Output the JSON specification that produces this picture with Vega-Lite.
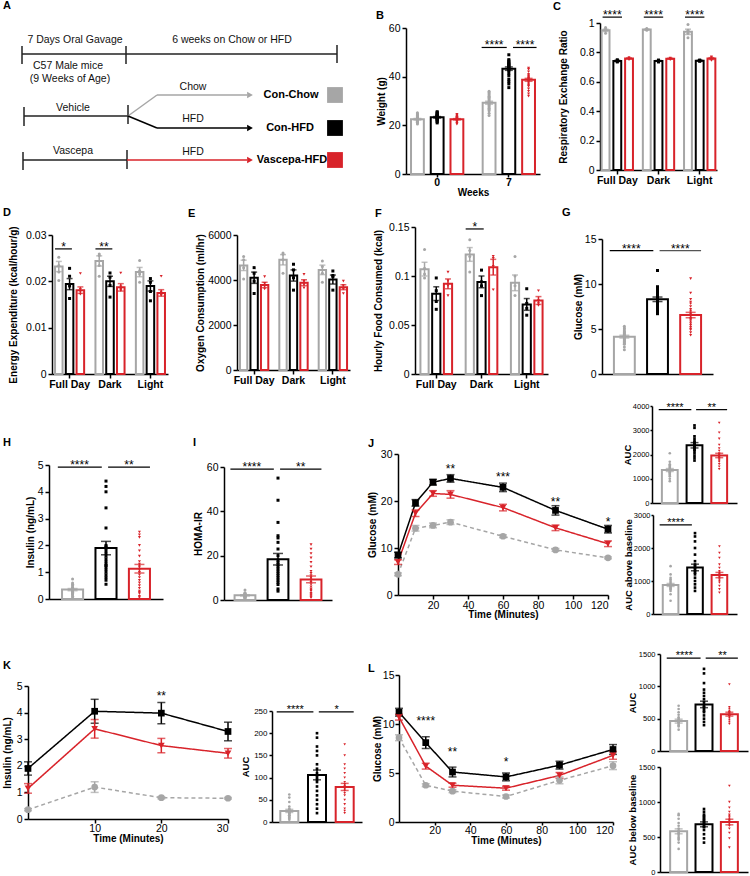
{
"$schema":"https://vega.github.io/schema/vega-lite/v6.json",
"background":"white",
"padding":0,
"config":{
 "font":"Liberation Sans",
 "view":{"stroke":null},
 "concat":{"spacing":0},
 "axis":{"domainColor":"#000","domainWidth":1.5,"tickColor":"#000","tickWidth":1.5,"tickSize":4,"labelColor":"#000","labelFont":"Liberation Sans","labelFontSize":10.5,"titleFont":"Liberation Sans","titleFontSize":10,"titleFontWeight":"bold","titleColor":"#000","grid":false,"labelPadding":2,"titlePadding":3},
 "title":{"anchor":"start","frame":"group","fontSize":11,"fontWeight":"bold","font":"Liberation Sans","color":"#000"}
},
"datasets":{
 "tl":[{"x":22,"y":52,"x2":337,"y2":52},{"x":22,"y":44,"x2":22,"y2":62},{"x":126,"y":44,"x2":126,"y2":62},{"x":337,"y":43,"x2":337,"y2":61},{"x":24,"y":114,"x2":128,"y2":114},{"x":24,"y":105,"x2":24,"y2":124},{"x":128,"y":103,"x2":128,"y2":122},{"x":23,"y":158,"x2":127,"y2":158},{"x":23,"y":150,"x2":23,"y2":168},{"x":127,"y":148,"x2":127,"y2":167}],
 "br":[{"g":"Con-Chow","x":128,"y":114,"x2":157,"y2":93},{"g":"Con-Chow","x":157,"y":93,"x2":247,"y2":93},{"g":"Con-HFD","x":128,"y":114,"x2":157,"y2":126},{"g":"Con-HFD","x":157,"y":126,"x2":247,"y2":126},{"g":"Vascepa-HFD","x":127,"y":158,"x2":247,"y2":158}],
 "arr":[{"g":"Con-Chow","x":250,"y":93},{"g":"Con-HFD","x":250,"y":126},{"g":"Vascepa-HFD","x":250,"y":158}],
 "atext":[{"t":"7 Days Oral Gavage","x":75,"y":38},{"t":"6 weeks on Chow or HFD","x":232,"y":38},{"t":"C57 Male mice","x":68,"y":64},{"t":"(9 Weeks of Age)","x":70,"y":77},{"t":"Chow","x":193,"y":85},{"t":"Vehicle","x":73,"y":106},{"t":"HFD","x":193,"y":117},{"t":"Vascepa","x":73,"y":149},{"t":"HFD","x":193,"y":150}],
 "leg":[{"g":"Con-Chow","x":291,"xs":335,"y":93},{"g":"Con-HFD","x":290,"xs":335,"y":126},{"g":"Vascepa-HFD","x":292,"xs":335,"y":158}],
 "bars":[
  {"p":"B","c":"0","g":"Con-Chow","v":22.5,"e":0.3},{"p":"B","c":"0","g":"Con-HFD","v":23.3,"e":0.3},{"p":"B","c":"0","g":"Vascepa-HFD","v":22.5,"e":0.25},
  {"p":"B","c":"7","g":"Con-Chow","v":29.3,"e":0.6},{"p":"B","c":"7","g":"Con-HFD","v":43.3,"e":0.7},{"p":"B","c":"7","g":"Vascepa-HFD","v":38.7,"e":0.6},
  {"p":"C","c":"Full Day","g":"Con-Chow","v":0.95,"e":0.008},{"p":"C","c":"Full Day","g":"Con-HFD","v":0.742,"e":0.004},{"p":"C","c":"Full Day","g":"Vascepa-HFD","v":0.758,"e":0.004},
  {"p":"C","c":"Dark","g":"Con-Chow","v":0.955,"e":0.003},{"p":"C","c":"Dark","g":"Con-HFD","v":0.742,"e":0.003},{"p":"C","c":"Dark","g":"Vascepa-HFD","v":0.757,"e":0.003},
  {"p":"C","c":"Light","g":"Con-Chow","v":0.94,"e":0.018},{"p":"C","c":"Light","g":"Con-HFD","v":0.744,"e":0.002},{"p":"C","c":"Light","g":"Vascepa-HFD","v":0.758,"e":0.006},
  {"p":"D","c":"Full Day","g":"Con-Chow","v":0.0232,"e":0.0011},{"p":"D","c":"Full Day","g":"Con-HFD","v":0.0194,"e":0.0012},{"p":"D","c":"Full Day","g":"Vascepa-HFD","v":0.0181,"e":0.0007},
  {"p":"D","c":"Dark","g":"Con-Chow","v":0.0244,"e":0.0011},{"p":"D","c":"Dark","g":"Con-HFD","v":0.02,"e":0.0011},{"p":"D","c":"Dark","g":"Vascepa-HFD","v":0.0187,"e":0.0008},
  {"p":"D","c":"Light","g":"Con-Chow","v":0.022,"e":0.001},{"p":"D","c":"Light","g":"Con-HFD","v":0.019,"e":0.0011},{"p":"D","c":"Light","g":"Vascepa-HFD","v":0.0175,"e":0.0007},
  {"p":"E","c":"Full Day","g":"Con-Chow","v":4650,"e":230},{"p":"E","c":"Full Day","g":"Con-HFD","v":4100,"e":250},{"p":"E","c":"Full Day","g":"Vascepa-HFD","v":3780,"e":120},
  {"p":"E","c":"Dark","g":"Con-Chow","v":4900,"e":230},{"p":"E","c":"Dark","g":"Con-HFD","v":4200,"e":250},{"p":"E","c":"Dark","g":"Vascepa-HFD","v":3880,"e":130},
  {"p":"E","c":"Light","g":"Con-Chow","v":4450,"e":210},{"p":"E","c":"Light","g":"Con-HFD","v":4020,"e":200},{"p":"E","c":"Light","g":"Vascepa-HFD","v":3680,"e":110},
  {"p":"F","c":"Full Day","g":"Con-Chow","v":0.107,"e":0.007},{"p":"F","c":"Full Day","g":"Con-HFD","v":0.082,"e":0.007},{"p":"F","c":"Full Day","g":"Vascepa-HFD","v":0.092,"e":0.005},
  {"p":"F","c":"Dark","g":"Con-Chow","v":0.122,"e":0.007},{"p":"F","c":"Dark","g":"Con-HFD","v":0.094,"e":0.006},{"p":"F","c":"Dark","g":"Vascepa-HFD","v":0.109,"e":0.008},
  {"p":"F","c":"Light","g":"Con-Chow","v":0.093,"e":0.008},{"p":"F","c":"Light","g":"Con-HFD","v":0.071,"e":0.006},{"p":"F","c":"Light","g":"Vascepa-HFD","v":0.075,"e":0.004},
  {"p":"G","g":"Con-Chow","v":4.15,"e":0.15},{"p":"G","g":"Con-HFD","v":8.3,"e":0.25},{"p":"G","g":"Vascepa-HFD","v":6.55,"e":0.3},
  {"p":"H","g":"Con-Chow","v":0.35,"e":0.04},{"p":"H","g":"Con-HFD","v":1.9,"e":0.25},{"p":"H","g":"Vascepa-HFD","v":1.13,"e":0.16},
  {"p":"I","g":"Con-Chow","v":2.1,"e":0.25},{"p":"I","g":"Con-HFD","v":18.4,"e":2.6},{"p":"I","g":"Vascepa-HFD","v":9.3,"e":1.5},
  {"p":"JA","g":"Con-Chow","v":1360,"e":60},{"p":"JA","g":"Con-HFD","v":2380,"e":110},{"p":"JA","g":"Vascepa-HFD","v":1960,"e":90},
  {"p":"JB","g":"Con-Chow","v":880,"e":45},{"p":"JB","g":"Con-HFD","v":1410,"e":100},{"p":"JB","g":"Vascepa-HFD","v":1180,"e":80},
  {"p":"KA","g":"Con-Chow","v":25,"e":3.5},{"p":"KA","g":"Con-HFD","v":106,"e":11},{"p":"KA","g":"Vascepa-HFD","v":79,"e":8},
  {"p":"LA","g":"Con-Chow","v":462,"e":30},{"p":"LA","g":"Con-HFD","v":720,"e":50},{"p":"LA","g":"Vascepa-HFD","v":570,"e":30},
  {"p":"LB","g":"Con-Chow","v":581,"e":35},{"p":"LB","g":"Con-HFD","v":681,"e":35},{"p":"LB","g":"Vascepa-HFD","v":714,"e":40}
 ],
 "dots":[
  {"p":"B","c":"0","g":"Con-Chow","v":[20.5,21,21.3,21.6,21.8,22,22.2,22.4,22.6,22.8,23,23.2,23.4,23.6,24,24.3,24.8,25.2,22.1,21.5]},
  {"p":"B","c":"0","g":"Con-HFD","v":[21,21.8,22.3,22.7,23,23.2,23.5,23.8,24,24.3,24.6,25,25.3,25.6,22.9,23.4,24.1,22.5,21.5,23.7]},
  {"p":"B","c":"0","g":"Vascepa-HFD","v":[20.8,21.3,21.7,22,22.2,22.4,22.6,22.8,23,23.2,23.5,23.8,24.2,22.1,22.9,21.9,22.5,23.3,20.5,24.5]},
  {"p":"B","c":"7","g":"Con-Chow","v":[24,25,26,26.5,27,27.5,28,28.5,29,29.3,29.6,30,30.5,31,31.5,32,32.5,33,33.5,34]},
  {"p":"B","c":"7","g":"Con-HFD","v":[35.5,37,38,39,40.5,41.5,42.5,43,43.3,43.6,44,44.3,44.6,45,45.3,45.6,46,46.5,47,49]},
  {"p":"B","c":"7","g":"Vascepa-HFD","v":[32,33,34,35,36,36.5,37,37.5,38,38.3,38.6,39,39.3,39.6,40,40.5,41,42,43,43.5]},
  {"p":"C","c":"Full Day","g":"Con-Chow","v":[0.93,0.95,0.96,0.97]},{"p":"C","c":"Full Day","g":"Con-HFD","v":[0.735,0.74,0.745,0.75]},{"p":"C","c":"Full Day","g":"Vascepa-HFD","v":[0.75,0.755,0.76,0.765]},
  {"p":"C","c":"Dark","g":"Con-Chow","v":[0.95,0.955,0.96,0.962]},{"p":"C","c":"Dark","g":"Con-HFD","v":[0.735,0.74,0.745,0.748]},{"p":"C","c":"Dark","g":"Vascepa-HFD","v":[0.75,0.755,0.76,0.762]},
  {"p":"C","c":"Light","g":"Con-Chow","v":[0.9,0.93,0.95,0.99]},{"p":"C","c":"Light","g":"Con-HFD","v":[0.74,0.742,0.745,0.748]},{"p":"C","c":"Light","g":"Vascepa-HFD","v":[0.745,0.755,0.765,0.77]},
  {"p":"D","c":"Full Day","g":"Con-Chow","v":[0.0202,0.022,0.0234,0.0252]},{"p":"D","c":"Full Day","g":"Con-HFD","v":[0.0163,0.019,0.0211,0.0228]},{"p":"D","c":"Full Day","g":"Vascepa-HFD","v":[0.0172,0.0178,0.0183,0.0217]},
  {"p":"D","c":"Dark","g":"Con-Chow","v":[0.0211,0.0234,0.0256,0.0259]},{"p":"D","c":"Dark","g":"Con-HFD","v":[0.0166,0.0191,0.0209,0.0218]},{"p":"D","c":"Dark","g":"Vascepa-HFD","v":[0.018,0.0183,0.0188,0.0218]},
  {"p":"D","c":"Light","g":"Con-Chow","v":[0.0198,0.0216,0.0223,0.0245]},{"p":"D","c":"Light","g":"Con-HFD","v":[0.0158,0.0178,0.0198,0.0206]},{"p":"D","c":"Light","g":"Vascepa-HFD","v":[0.017,0.0173,0.0177,0.0211]},
  {"p":"E","c":"Full Day","g":"Con-Chow","v":[4050,4550,4900,5050]},{"p":"E","c":"Full Day","g":"Con-HFD","v":[3400,3950,4300,4550]},{"p":"E","c":"Full Day","g":"Vascepa-HFD","v":[3600,3750,3850,4150]},
  {"p":"E","c":"Dark","g":"Con-Chow","v":[4300,4900,5150,5200]},{"p":"E","c":"Dark","g":"Con-HFD","v":[3550,4100,4450,4700]},{"p":"E","c":"Dark","g":"Vascepa-HFD","v":[3650,3800,3950,4250]},
  {"p":"E","c":"Light","g":"Con-Chow","v":[3900,4300,4600,4850]},{"p":"E","c":"Light","g":"Con-HFD","v":[3550,4150,4200,4400]},{"p":"E","c":"Light","g":"Vascepa-HFD","v":[3400,3600,3750,3950]},
  {"p":"F","c":"Full Day","g":"Con-Chow","v":[0.098,0.102,0.108,0.127]},{"p":"F","c":"Full Day","g":"Con-HFD","v":[0.066,0.074,0.085,0.098]},{"p":"F","c":"Full Day","g":"Vascepa-HFD","v":[0.08,0.09,0.095,0.104]},
  {"p":"F","c":"Dark","g":"Con-Chow","v":[0.104,0.12,0.126,0.137]},{"p":"F","c":"Dark","g":"Con-HFD","v":[0.08,0.09,0.094,0.106]},{"p":"F","c":"Dark","g":"Vascepa-HFD","v":[0.086,0.11,0.118,0.12]},
  {"p":"F","c":"Light","g":"Con-Chow","v":[0.08,0.09,0.1,0.12]},{"p":"F","c":"Light","g":"Con-HFD","v":[0.06,0.067,0.072,0.087]},{"p":"F","c":"Light","g":"Vascepa-HFD","v":[0.07,0.072,0.075,0.085]},
  {"p":"G","g":"Con-Chow","v":[2.7,3.0,3.3,3.5,3.7,3.8,3.9,4.0,4.1,4.2,4.3,4.4,4.5,4.6,4.8,5.0,5.1,5.3,3.6,4.2,4.7,3.4]},
  {"p":"G","g":"Con-HFD","v":[6.7,6.9,7.1,7.3,7.5,7.7,7.8,8.0,8.2,8.4,8.6,8.8,9.0,9.2,9.4,9.6,9.7,11.5,7.0,8.3,8.9,7.4]},
  {"p":"G","g":"Vascepa-HFD","v":[4.3,4.6,4.9,5.2,5.4,5.6,5.8,6.0,6.2,6.4,6.6,6.8,7.0,7.2,7.5,7.8,8.0,8.3,9.0,10.6,5.0,6.1]},
  {"p":"H","g":"Con-Chow","v":[0.05,0.1,0.15,0.2,0.22,0.25,0.28,0.3,0.32,0.35,0.37,0.4,0.42,0.45,0.5,0.55,0.6,0.75,0.2,0.3,0.35]},
  {"p":"H","g":"Con-HFD","v":[0.55,0.7,0.9,1.0,1.1,1.2,1.3,1.4,1.5,1.6,1.7,1.8,1.95,2.0,2.65,3.4,4.0,4.2,4.4,0.8,1.25,1.9]},
  {"p":"H","g":"Vascepa-HFD","v":[0.05,0.1,0.2,0.3,0.4,0.5,0.6,0.7,0.8,0.9,1.0,1.1,1.2,1.3,1.4,1.6,1.8,2.0,2.3,2.4,2.5,0.25]},
  {"p":"I","g":"Con-Chow","v":[1,1.2,1.5,1.6,1.8,2,2.1,2.2,2.4,2.6,2.8,3.0,1.4,1.9,2.5,3.3,4.5,0.8]},
  {"p":"I","g":"Con-HFD","v":[4,5,7,8,9,10,11,12,13,14,15,16,17,18,20,23,26,28,29,35,45,55]},
  {"p":"I","g":"Vascepa-HFD","v":[1,1.5,2,2.5,3,4,5,6,7,8,9,10,11,12,13,15,17,19,21,23,25,4.5]},
  {"p":"JA","g":"Con-Chow","v":[900,1000,1100,1150,1200,1250,1300,1350,1400,1450,1500,1550,1600,1700,2050,1250,1380]},
  {"p":"JA","g":"Con-HFD","v":[1750,1850,1950,2050,2150,2250,2300,2350,2400,2450,2500,2550,2650,2750,3100,3200,2200]},
  {"p":"JA","g":"Vascepa-HFD","v":[1400,1500,1600,1700,1750,1800,1850,1900,1950,2000,2050,2150,2250,2400,2650,2900,3300,1900]},
  {"p":"JB","g":"Con-Chow","v":[400,600,700,750,800,850,880,900,950,1000,1050,1100,1200,1450,850,780]},
  {"p":"JB","g":"Con-HFD","v":[700,800,900,1000,1100,1200,1300,1350,1400,1450,1500,1600,1800,2000,2200,2350,2450,1250]},
  {"p":"JB","g":"Vascepa-HFD","v":[650,750,850,950,1000,1050,1100,1150,1200,1250,1300,1400,1500,1700,1850,2050,1150]},
  {"p":"KA","g":"Con-Chow","v":[5,8,10,12,15,18,20,22,25,28,30,35,45,55,62,20,15]},
  {"p":"KA","g":"Con-HFD","v":[20,30,40,50,60,70,80,90,100,110,120,130,150,160,170,190,200,95,105]},
  {"p":"KA","g":"Vascepa-HFD","v":[20,25,30,40,50,60,70,75,80,85,90,100,110,120,130,150,175,65]},
  {"p":"LA","g":"Con-Chow","v":[330,380,400,420,440,460,480,500,520,560,600,650,700,450]},
  {"p":"LA","g":"Con-HFD","v":[400,450,500,550,600,650,700,750,800,850,900,950,1050,1200,1270,620,680]},
  {"p":"LA","g":"Vascepa-HFD","v":[420,450,480,510,540,560,580,600,620,650,680,1030,540,600]},
  {"p":"LB","g":"Con-Chow","v":[330,420,460,500,530,560,590,620,660,700,760,810,830,480,550]},
  {"p":"LB","g":"Con-HFD","v":[420,480,540,600,640,680,700,720,740,760,780,800,820,860,900,650]},
  {"p":"LB","g":"Vascepa-HFD","v":[350,480,560,620,660,700,720,740,760,780,800,820,860,920,1000,1230,700]}
 ],
 "sig":[
  {"p":"B","c":"7","g1":"Con-Chow","g2":"Con-HFD","k":"A","v":52,"t":"****"},{"p":"B","c":"7","g1":"Con-HFD","g2":"Vascepa-HFD","k":"B","v":52,"t":"****"},
  {"p":"C","c":"Full Day","k":"A","v":1.04,"t":"****"},{"p":"C","c":"Dark","k":"A","v":1.04,"t":"****"},{"p":"C","c":"Light","k":"A","v":1.04,"t":"****"},
  {"p":"D","c":"Full Day","k":"A","v":0.027,"t":"*"},{"p":"D","c":"Dark","k":"A","v":0.027,"t":"**"},
  {"p":"F","c":"Dark","k":"A","v":0.148,"t":"*"},
  {"p":"G","g1":"Con-Chow","g2":"Con-HFD","k":"A","v":13.7,"t":"****"},{"p":"G","g1":"Con-HFD","g2":"Vascepa-HFD","k":"B","v":13.7,"t":"****"},
  {"p":"H","g1":"Con-Chow","g2":"Con-HFD","k":"A","v":4.92,"t":"****"},{"p":"H","g1":"Con-HFD","g2":"Vascepa-HFD","k":"B","v":4.92,"t":"**"},
  {"p":"I","g1":"Con-Chow","g2":"Con-HFD","k":"A","v":59,"t":"****"},{"p":"I","g1":"Con-HFD","g2":"Vascepa-HFD","k":"B","v":59,"t":"**"},
  {"p":"JA","g1":"Con-Chow","g2":"Con-HFD","k":"A","v":3850,"t":"****"},{"p":"JA","g1":"Con-HFD","g2":"Vascepa-HFD","k":"B","v":3850,"t":"**"},
  {"p":"JB","g1":"Con-Chow","g2":"Con-HFD","k":"A","v":2700,"t":"****"},
  {"p":"KA","g1":"Con-Chow","g2":"Con-HFD","k":"A","v":248,"t":"****"},{"p":"KA","g1":"Con-HFD","g2":"Vascepa-HFD","k":"B","v":248,"t":"*"},
  {"p":"LA","g1":"Con-Chow","g2":"Con-HFD","k":"A","v":1437,"t":"****"},{"p":"LA","g1":"Con-HFD","g2":"Vascepa-HFD","k":"B","v":1437,"t":"**"}
 ],
 "lines":[
  {"p":"J","g":"Con-Chow","min":0,"v":4.4,"e":0.3},{"p":"J","g":"Con-Chow","min":10,"v":14.2,"e":0.6},{"p":"J","g":"Con-Chow","min":20,"v":14.8,"e":0.5},{"p":"J","g":"Con-Chow","min":30,"v":15.5,"e":0.5},{"p":"J","g":"Con-Chow","min":60,"v":12.5,"e":0.3},{"p":"J","g":"Con-Chow","min":90,"v":9.6,"e":0.3},{"p":"J","g":"Con-Chow","min":120,"v":7.9,"e":0.2},
  {"p":"J","g":"Con-HFD","min":0,"v":8.5,"e":0.6},{"p":"J","g":"Con-HFD","min":10,"v":19.6,"e":0.7},{"p":"J","g":"Con-HFD","min":20,"v":24.0,"e":0.6},{"p":"J","g":"Con-HFD","min":30,"v":24.8,"e":0.8},{"p":"J","g":"Con-HFD","min":60,"v":22.9,"e":0.9},{"p":"J","g":"Con-HFD","min":90,"v":18.0,"e":1.0},{"p":"J","g":"Con-HFD","min":120,"v":14.0,"e":0.8},
  {"p":"J","g":"Vascepa-HFD","min":0,"v":7.0,"e":0.5},{"p":"J","g":"Vascepa-HFD","min":10,"v":17.4,"e":0.7},{"p":"J","g":"Vascepa-HFD","min":20,"v":21.6,"e":0.6},{"p":"J","g":"Vascepa-HFD","min":30,"v":21.4,"e":0.8},{"p":"J","g":"Vascepa-HFD","min":60,"v":18.6,"e":0.7},{"p":"J","g":"Vascepa-HFD","min":90,"v":14.3,"e":0.6},{"p":"J","g":"Vascepa-HFD","min":120,"v":10.9,"e":0.6},
  {"p":"K","g":"Con-Chow","min":0,"v":0.35,"e":0.04},{"p":"K","g":"Con-Chow","min":10,"v":1.2,"e":0.2},{"p":"K","g":"Con-Chow","min":20,"v":0.8,"e":0.04},{"p":"K","g":"Con-Chow","min":30,"v":0.78,"e":0.03},
  {"p":"K","g":"Con-HFD","min":0,"v":1.9,"e":0.25},{"p":"K","g":"Con-HFD","min":10,"v":4.05,"e":0.45},{"p":"K","g":"Con-HFD","min":20,"v":3.98,"e":0.4},{"p":"K","g":"Con-HFD","min":30,"v":3.29,"e":0.35},
  {"p":"K","g":"Vascepa-HFD","min":0,"v":1.15,"e":0.18},{"p":"K","g":"Vascepa-HFD","min":10,"v":3.39,"e":0.35},{"p":"K","g":"Vascepa-HFD","min":20,"v":2.76,"e":0.27},{"p":"K","g":"Vascepa-HFD","min":30,"v":2.47,"e":0.18},
  {"p":"L","g":"Con-Chow","min":0,"v":8.6,"e":0.3},{"p":"L","g":"Con-Chow","min":15,"v":3.75,"e":0.15},{"p":"L","g":"Con-Chow","min":30,"v":3.15,"e":0.15},{"p":"L","g":"Con-Chow","min":60,"v":2.6,"e":0.15},{"p":"L","g":"Con-Chow","min":90,"v":4.25,"e":0.35},{"p":"L","g":"Con-Chow","min":120,"v":5.75,"e":0.4},
  {"p":"L","g":"Con-HFD","min":0,"v":11.2,"e":0.4},{"p":"L","g":"Con-HFD","min":15,"v":8.1,"e":0.6},{"p":"L","g":"Con-HFD","min":30,"v":5.1,"e":0.5},{"p":"L","g":"Con-HFD","min":60,"v":4.6,"e":0.4},{"p":"L","g":"Con-HFD","min":90,"v":5.8,"e":0.4},{"p":"L","g":"Con-HFD","min":120,"v":7.4,"e":0.5},
  {"p":"L","g":"Vascepa-HFD","min":0,"v":10.7,"e":0.3},{"p":"L","g":"Vascepa-HFD","min":15,"v":5.7,"e":0.3},{"p":"L","g":"Vascepa-HFD","min":30,"v":3.75,"e":0.2},{"p":"L","g":"Vascepa-HFD","min":60,"v":3.45,"e":0.2},{"p":"L","g":"Vascepa-HFD","min":90,"v":4.75,"e":0.3},{"p":"L","g":"Vascepa-HFD","min":120,"v":6.8,"e":0.4}
 ],
 "stars":[
  {"p":"J","min":30,"v":27.3,"t":"**"},{"p":"J","min":60,"v":25.6,"t":"***"},{"p":"J","min":90,"v":20.4,"t":"**"},{"p":"J","min":120,"v":16.1,"t":"*"},
  {"p":"K","min":20,"v":4.71,"t":"**"},
  {"p":"L","min":15,"v":10.57,"t":"****"},{"p":"L","min":30,"v":7.43,"t":"**"},{"p":"L","min":60,"v":6.4,"t":"*"}
 ]
},
"spacing":0,
"vconcat":[
 {"spacing":0,"hconcat":[
  {"title":{"text":"A","dx":3,"offset":-9},"width":375,"height":200,
   "encoding":{"x":{"field":"x","type":"quantitative","scale":{"domain":[0,375],"nice":false,"zero":false},"axis":null},"y":{"field":"y","type":"quantitative","scale":{"domain":[0,200],"reverse":true,"nice":false,"zero":false},"axis":null}},
   "layer":[
    {"data":{"name":"tl"},"mark":{"type":"rule","strokeWidth":1.5,"color":"#222"},"encoding":{"x2":{"field":"x2"},"y2":{"field":"y2"}}},
    {"data":{"name":"br"},"mark":{"type":"rule","strokeWidth":1.5},"encoding":{"x2":{"field":"x2"},"y2":{"field":"y2"},"color":{"field":"g","type":"nominal","scale":{"domain":["Con-Chow","Con-HFD","Vascepa-HFD"],"range":["#a6a6a6","#000000","#d8232a"]},"legend":null}}},
    {"data":{"name":"arr"},"mark":{"type":"point","shape":"triangle-right","filled":true,"size":45,"opacity":1},"encoding":{"color":{"field":"g","type":"nominal","scale":{"domain":["Con-Chow","Con-HFD","Vascepa-HFD"],"range":["#a6a6a6","#000000","#d8232a"]},"legend":null}}},
    {"data":{"name":"atext"},"mark":{"type":"text","fontSize":10.5,"baseline":"middle","color":"#111"},"encoding":{"text":{"field":"t"}}},
    {"data":{"name":"leg"},"mark":{"type":"text","fontSize":11,"fontWeight":"bold","baseline":"middle","color":"#000"},"encoding":{"text":{"field":"g"}}},
    {"data":{"name":"leg"},"mark":{"type":"square","size":250,"opacity":1},"encoding":{"x":{"field":"xs","type":"quantitative"},"color":{"field":"g","type":"nominal","scale":{"domain":["Con-Chow","Con-HFD","Vascepa-HFD"],"range":["#a6a6a6","#000000","#d8232a"]},"legend":null}}}
   ]},
  {"title":{"text":"B","dx":1,"offset":-19},"width":177,"height":200,
   "encoding":{
    "x":{"field":"c","type":"nominal","sort":["0","7"],"scale":{"paddingInner":0.27,"paddingOuter":0.07,"range":[31,165]},"axis":{"labelAngle":0,"labelFontWeight":"bold","titlePadding":0,"labelPadding":0,"tickSize":3,"offset":-28},"title":"Weeks"},
    "y":{"field":"v","type":"quantitative","scale":{"domain":[0,60],"range":[172,26]},"axis":{"values":[0,20,40,60],"format":"~f","offset":-31,"titlePadding":2},"title":"Weight (g)"},
    "color":{"field":"g","type":"nominal","scale":{"domain":["Con-Chow","Con-HFD","Vascepa-HFD"],"range":["#a6a6a6","#000000","#d8232a"]},"legend":null}},
   "layer":[
    {"data":{"name":"bars"},"transform":[{"filter":"datum.p=='B'"}],"mark":{"type":"bar","filled":false,"fill":"white","strokeWidth":2},"encoding":{"xOffset":{"field":"g","type":"nominal","sort":["Con-Chow","Con-HFD","Vascepa-HFD"],"scale":{"paddingInner":0.35,"paddingOuter":0}}}},
    {"data":{"name":"dots"},"transform":[{"filter":"datum.p=='B'"},{"flatten":["v"]}],"mark":{"type":"point","filled":true,"size":9,"opacity":1},"encoding":{"xOffset":{"field":"g","type":"nominal","sort":["Con-Chow","Con-HFD","Vascepa-HFD"]},"shape":{"field":"g","type":"nominal","scale":{"domain":["Con-Chow","Con-HFD","Vascepa-HFD"],"range":["circle","square","triangle-down"]},"legend":null}}},
    {"data":{"name":"bars"},"transform":[{"filter":"datum.p=='B'"}],"mark":{"type":"errorbar","ticks":{"size":8},"thickness":1.5},"encoding":{"xOffset":{"field":"g","type":"nominal","sort":["Con-Chow","Con-HFD","Vascepa-HFD"]},"yError":{"field":"e"}}},
    {"data":{"name":"sig"},"transform":[{"filter":"datum.p=='B' && datum.k=='A'"}],"mark":{"type":"rule","strokeWidth":1.2},"encoding":{"x":{"field":"c","type":"nominal","sort":["0","7"],"bandPosition":-0.02,"title":"Weeks"},"x2":{"field":"c","bandPosition":0.46},"color":{"value":"black"}}},
    {"data":{"name":"sig"},"transform":[{"filter":"datum.p=='B' && datum.k=='B'"}],"mark":{"type":"rule","strokeWidth":1.2},"encoding":{"x":{"field":"c","type":"nominal","sort":["0","7"],"bandPosition":0.58,"title":"Weeks"},"x2":{"field":"c","bandPosition":1.03},"color":{"value":"black"}}},
    {"data":{"name":"sig"},"transform":[{"filter":"datum.p=='B' && datum.k=='A'"}],"mark":{"type":"text","baseline":"middle","dy":-2,"fontSize":12},"encoding":{"x":{"field":"c","type":"nominal","sort":["0","7"],"bandPosition":0.22,"title":"Weeks"},"text":{"field":"t"},"color":{"value":"black"}}},
    {"data":{"name":"sig"},"transform":[{"filter":"datum.p=='B' && datum.k=='B'"}],"mark":{"type":"text","baseline":"middle","dy":-2,"fontSize":12},"encoding":{"x":{"field":"c","type":"nominal","sort":["0","7"],"bandPosition":0.81,"title":"Weeks"},"text":{"field":"t"},"color":{"value":"black"}}}
   ]},
  {"title":{"text":"C","dx":1,"offset":-10},"width":198,"height":200,
   "encoding":{
    "x":{"field":"c","type":"nominal","sort":["Full Day","Dark","Light"],"scale":{"paddingInner":0.24,"paddingOuter":0.04,"range":[48,165]},"axis":{"labelAngle":0,"labelFontWeight":"bold","labelPadding":1,"offset":-32},"title":null},
    "y":{"field":"v","type":"quantitative","scale":{"domain":[0,1],"range":[168,21]},"axis":{"values":[0,0.2,0.4,0.6,0.8,1],"format":"~f","titlePadding":11,"offset":-48},"title":"Respiratory Exchange Ratio"},
    "color":{"field":"g","type":"nominal","scale":{"domain":["Con-Chow","Con-HFD","Vascepa-HFD"],"range":["#a6a6a6","#000000","#d8232a"]},"legend":null}},
   "layer":[
    {"data":{"name":"bars"},"transform":[{"filter":"datum.p=='C'"}],"mark":{"type":"bar","filled":false,"fill":"white","strokeWidth":2},"encoding":{"xOffset":{"field":"g","type":"nominal","sort":["Con-Chow","Con-HFD","Vascepa-HFD"],"scale":{"paddingInner":0.33,"paddingOuter":0}}}},
    {"data":{"name":"dots"},"transform":[{"filter":"datum.p=='C'"},{"flatten":["v"]}],"mark":{"type":"point","filled":true,"size":9,"opacity":1},"encoding":{"xOffset":{"field":"g","type":"nominal","sort":["Con-Chow","Con-HFD","Vascepa-HFD"]},"shape":{"field":"g","type":"nominal","scale":{"domain":["Con-Chow","Con-HFD","Vascepa-HFD"],"range":["circle","square","triangle-down"]},"legend":null}}},
    {"data":{"name":"bars"},"transform":[{"filter":"datum.p=='C'"}],"mark":{"type":"errorbar","ticks":{"size":6},"thickness":1.5},"encoding":{"xOffset":{"field":"g","type":"nominal","sort":["Con-Chow","Con-HFD","Vascepa-HFD"]},"yError":{"field":"e"}}},
    {"data":{"name":"sig"},"transform":[{"filter":"datum.p=='C'"}],"mark":{"type":"rule","strokeWidth":1.2},"encoding":{"x":{"field":"c","type":"nominal","sort":["Full Day","Dark","Light"],"bandPosition":0.03,"title":null},"x2":{"field":"c","bandPosition":0.65},"color":{"value":"black"}}},
    {"data":{"name":"sig"},"transform":[{"filter":"datum.p=='C'"}],"mark":{"type":"text","baseline":"middle","dy":-2,"fontSize":12},"encoding":{"x":{"field":"c","type":"nominal","sort":["Full Day","Dark","Light"],"bandPosition":0.34,"title":null},"text":{"field":"t"},"color":{"value":"black"}}}
   ]}
 ],"resolve":{"scale":{"xOffset":"independent"}}},
 {"spacing":0,"hconcat":[
  {"title":{"text":"D","dx":3,"offset":-16},"width":185,"height":195,
   "encoding":{
    "x":{"field":"c","type":"nominal","sort":["Full Day","Dark","Light"],"scale":{"paddingInner":0.28,"paddingOuter":0.075,"range":[52,168]},"axis":{"labelAngle":0,"labelFontWeight":"bold","labelPadding":1,"offset":-23},"title":null},
    "y":{"field":"v","type":"quantitative","scale":{"domain":[0,0.03],"range":[172,33]},"axis":{"values":[0,0.01,0.02,0.03],"format":"~f","titlePadding":6.6,"offset":-52},"title":"Energy Expenditure (kcal/hour/g)"},
    "color":{"field":"g","type":"nominal","scale":{"domain":["Con-Chow","Con-HFD","Vascepa-HFD"],"range":["#a6a6a6","#000000","#d8232a"]},"legend":null}},
   "layer":[
    {"data":{"name":"bars"},"transform":[{"filter":"datum.p=='D'"}],"mark":{"type":"bar","filled":false,"fill":"white","strokeWidth":2},"encoding":{"xOffset":{"field":"g","type":"nominal","sort":["Con-Chow","Con-HFD","Vascepa-HFD"],"scale":{"paddingInner":0.3,"paddingOuter":0}}}},
    {"data":{"name":"dots"},"transform":[{"filter":"datum.p=='D'"},{"flatten":["v"]}],"mark":{"type":"point","filled":true,"size":9,"opacity":1},"encoding":{"xOffset":{"field":"g","type":"nominal","sort":["Con-Chow","Con-HFD","Vascepa-HFD"]},"shape":{"field":"g","type":"nominal","scale":{"domain":["Con-Chow","Con-HFD","Vascepa-HFD"],"range":["circle","square","triangle-down"]},"legend":null}}},
    {"data":{"name":"bars"},"transform":[{"filter":"datum.p=='D'"}],"mark":{"type":"errorbar","ticks":{"size":6},"thickness":1.5},"encoding":{"xOffset":{"field":"g","type":"nominal","sort":["Con-Chow","Con-HFD","Vascepa-HFD"]},"yError":{"field":"e"}}},
    {"data":{"name":"sig"},"transform":[{"filter":"datum.p=='D'"}],"mark":{"type":"rule","strokeWidth":1.2},"encoding":{"x":{"field":"c","type":"nominal","sort":["Full Day","Dark","Light"],"bandPosition":0.0,"title":null},"x2":{"field":"c","bandPosition":0.58},"color":{"value":"black"}}},
    {"data":{"name":"sig"},"transform":[{"filter":"datum.p=='D'"}],"mark":{"type":"text","baseline":"middle","dy":-2,"fontSize":12},"encoding":{"x":{"field":"c","type":"nominal","sort":["Full Day","Dark","Light"],"bandPosition":0.29,"title":null},"text":{"field":"t"},"color":{"value":"black"}}}
   ]},
  {"title":{"text":"E","dx":3,"offset":-17},"width":185,"height":195,
   "encoding":{
    "x":{"field":"c","type":"nominal","sort":["Full Day","Dark","Light"],"scale":{"paddingInner":0.28,"paddingOuter":0.075,"range":[52,165]},"axis":{"labelAngle":0,"labelFontWeight":"bold","labelPadding":1,"offset":-27},"title":null},
    "y":{"field":"v","type":"quantitative","scale":{"domain":[0,6000],"range":[168,33]},"axis":{"values":[0,2000,4000,6000],"format":"~f","titlePadding":2.6,"offset":-52},"title":"Oxygen Consumption (ml/hr)"},
    "color":{"field":"g","type":"nominal","scale":{"domain":["Con-Chow","Con-HFD","Vascepa-HFD"],"range":["#a6a6a6","#000000","#d8232a"]},"legend":null}},
   "layer":[
    {"data":{"name":"bars"},"transform":[{"filter":"datum.p=='E'"}],"mark":{"type":"bar","filled":false,"fill":"white","strokeWidth":2},"encoding":{"xOffset":{"field":"g","type":"nominal","sort":["Con-Chow","Con-HFD","Vascepa-HFD"],"scale":{"paddingInner":0.3,"paddingOuter":0}}}},
    {"data":{"name":"dots"},"transform":[{"filter":"datum.p=='E'"},{"flatten":["v"]}],"mark":{"type":"point","filled":true,"size":9,"opacity":1},"encoding":{"xOffset":{"field":"g","type":"nominal","sort":["Con-Chow","Con-HFD","Vascepa-HFD"]},"shape":{"field":"g","type":"nominal","scale":{"domain":["Con-Chow","Con-HFD","Vascepa-HFD"],"range":["circle","square","triangle-down"]},"legend":null}}},
    {"data":{"name":"bars"},"transform":[{"filter":"datum.p=='E'"}],"mark":{"type":"errorbar","ticks":{"size":6},"thickness":1.5},"encoding":{"xOffset":{"field":"g","type":"nominal","sort":["Con-Chow","Con-HFD","Vascepa-HFD"]},"yError":{"field":"e"}}}
   ]},
  {"title":{"text":"F","dx":5,"offset":-17},"width":192,"height":195,
   "encoding":{
    "x":{"field":"c","type":"nominal","sort":["Full Day","Dark","Light"],"scale":{"paddingInner":0.3,"paddingOuter":0.12,"range":[45,178]},"axis":{"labelAngle":0,"labelFontWeight":"bold","labelPadding":1,"offset":-23},"title":null},
    "y":{"field":"v","type":"quantitative","scale":{"domain":[0,0.15],"range":[172,25]},"axis":{"values":[0,0.05,0.1,0.15],"format":"~f","titlePadding":4.6,"offset":-45},"title":"Hourly Food Consumed (kcal)"},
    "color":{"field":"g","type":"nominal","scale":{"domain":["Con-Chow","Con-HFD","Vascepa-HFD"],"range":["#a6a6a6","#000000","#d8232a"]},"legend":null}},
   "layer":[
    {"data":{"name":"bars"},"transform":[{"filter":"datum.p=='F'"}],"mark":{"type":"bar","filled":false,"fill":"white","strokeWidth":2},"encoding":{"xOffset":{"field":"g","type":"nominal","sort":["Con-Chow","Con-HFD","Vascepa-HFD"],"scale":{"paddingInner":0.3,"paddingOuter":0}}}},
    {"data":{"name":"dots"},"transform":[{"filter":"datum.p=='F'"},{"flatten":["v"]}],"mark":{"type":"point","filled":true,"size":9,"opacity":1},"encoding":{"xOffset":{"field":"g","type":"nominal","sort":["Con-Chow","Con-HFD","Vascepa-HFD"]},"shape":{"field":"g","type":"nominal","scale":{"domain":["Con-Chow","Con-HFD","Vascepa-HFD"],"range":["circle","square","triangle-down"]},"legend":null}}},
    {"data":{"name":"bars"},"transform":[{"filter":"datum.p=='F'"}],"mark":{"type":"errorbar","ticks":{"size":6},"thickness":1.5},"encoding":{"xOffset":{"field":"g","type":"nominal","sort":["Con-Chow","Con-HFD","Vascepa-HFD"]},"yError":{"field":"e"}}},
    {"data":{"name":"sig"},"transform":[{"filter":"datum.p=='F'"}],"mark":{"type":"rule","strokeWidth":1.2},"encoding":{"x":{"field":"c","type":"nominal","sort":["Full Day","Dark","Light"],"bandPosition":0.0,"title":null},"x2":{"field":"c","bandPosition":0.57},"color":{"value":"black"}}},
    {"data":{"name":"sig"},"transform":[{"filter":"datum.p=='F'"}],"mark":{"type":"text","baseline":"middle","dy":-2,"fontSize":12},"encoding":{"x":{"field":"c","type":"nominal","sort":["Full Day","Dark","Light"],"bandPosition":0.29,"title":null},"text":{"field":"t"},"color":{"value":"black"}}}
   ]},
  {"title":{"text":"G","dx":0,"offset":-16,"frame":"bounds"},"width":188,"height":195,
   "encoding":{
    "x":{"field":"g","type":"nominal","sort":["Con-Chow","Con-HFD","Vascepa-HFD"],"scale":{"paddingInner":0.37,"paddingOuter":0.36,"range":[40,151]},"axis":{"labels":false,"ticks":false,"offset":-23},"title":null},
    "y":{"field":"v","type":"quantitative","scale":{"domain":[0,15],"range":[172,37]},"axis":{"values":[0,5,10,15],"format":"~f","titlePadding":1.3,"offset":-40},"title":"Glucose (mM)"},
    "color":{"field":"g","type":"nominal","scale":{"domain":["Con-Chow","Con-HFD","Vascepa-HFD"],"range":["#a6a6a6","#000000","#d8232a"]},"legend":null}},
   "layer":[
    {"data":{"name":"bars"},"transform":[{"filter":"datum.p=='G'"}],"mark":{"type":"bar","filled":false,"fill":"white","strokeWidth":2}},
    {"data":{"name":"dots"},"transform":[{"filter":"datum.p=='G'"},{"flatten":["v"]}],"mark":{"type":"point","filled":true,"size":9,"opacity":1},"encoding":{"shape":{"field":"g","type":"nominal","scale":{"domain":["Con-Chow","Con-HFD","Vascepa-HFD"],"range":["circle","square","triangle-down"]},"legend":null}}},
    {"data":{"name":"bars"},"transform":[{"filter":"datum.p=='G'"}],"mark":{"type":"errorbar","ticks":{"size":10},"thickness":1.5},"encoding":{"yError":{"field":"e"}}},
    {"data":{"name":"sig"},"transform":[{"filter":"datum.p=='G' && datum.k=='A'"}],"mark":{"type":"rule","strokeWidth":1.2},"encoding":{"x":{"field":"g1","type":"nominal","sort":["Con-Chow","Con-HFD","Vascepa-HFD"],"bandPosition":-0.2,"title":null},"x2":{"field":"g2","bandPosition":0.3},"color":{"value":"black"}}},
    {"data":{"name":"sig"},"transform":[{"filter":"datum.p=='G' && datum.k=='B'"}],"mark":{"type":"rule","strokeWidth":1.2},"encoding":{"x":{"field":"g1","type":"nominal","sort":["Con-Chow","Con-HFD","Vascepa-HFD"],"bandPosition":0.6,"title":null},"x2":{"field":"g2","bandPosition":1.0},"color":{"value":"#555"}}},
    {"data":{"name":"sig"},"transform":[{"filter":"datum.p=='G' && datum.k=='A'"}],"mark":{"type":"text","baseline":"middle","dy":-2,"fontSize":12},"encoding":{"x":{"field":"g1","type":"nominal","sort":["Con-Chow","Con-HFD","Vascepa-HFD"],"bandPosition":0.83,"title":null},"text":{"field":"t"},"color":{"value":"black"}}},
    {"data":{"name":"sig"},"transform":[{"filter":"datum.p=='G' && datum.k=='B'"}],"mark":{"type":"text","baseline":"middle","dy":-2,"fontSize":12},"encoding":{"x":{"field":"g1","type":"nominal","sort":["Con-Chow","Con-HFD","Vascepa-HFD"],"bandPosition":1.59,"title":null},"text":{"field":"t"},"color":{"value":"black"}}}
   ]}
 ],"resolve":{"scale":{"xOffset":"independent"}}},
 {"spacing":0,"hconcat":[
  {"spacing":0,"vconcat":[
   {"spacing":0,"hconcat":[
    {"title":{"text":"H","dx":3,"offset":-51},"width":186,"height":233,
     "encoding":{
      "x":{"field":"g","type":"nominal","sort":["Con-Chow","Con-HFD","Vascepa-HFD"],"scale":{"paddingInner":0.37,"paddingOuter":0.39,"range":[49,163]},"axis":{"labels":false,"ticks":false,"offset":-31},"title":null},
      "y":{"field":"v","type":"quantitative","scale":{"domain":[0,5],"range":[202,68]},"axis":{"values":[0,1,2,3,4,5],"format":"~f","titlePadding":1.2,"offset":-49},"title":"Insulin (ng/mL)"},
      "color":{"field":"g","type":"nominal","scale":{"domain":["Con-Chow","Con-HFD","Vascepa-HFD"],"range":["#a6a6a6","#000000","#d8232a"]},"legend":null}},
     "layer":[
      {"data":{"name":"bars"},"transform":[{"filter":"datum.p=='H'"}],"mark":{"type":"bar","filled":false,"fill":"white","strokeWidth":2}},
      {"data":{"name":"dots"},"transform":[{"filter":"datum.p=='H'"},{"flatten":["v"]}],"mark":{"type":"point","filled":true,"size":9,"opacity":1},"encoding":{"shape":{"field":"g","type":"nominal","scale":{"domain":["Con-Chow","Con-HFD","Vascepa-HFD"],"range":["circle","square","triangle-down"]},"legend":null}}},
      {"data":{"name":"bars"},"transform":[{"filter":"datum.p=='H'"}],"mark":{"type":"errorbar","ticks":{"size":10},"thickness":1.5},"encoding":{"yError":{"field":"e"}}},
      {"data":{"name":"sig"},"transform":[{"filter":"datum.p=='H' && datum.k=='A'"}],"mark":{"type":"rule","strokeWidth":1.2},"encoding":{"x":{"field":"g1","type":"nominal","sort":["Con-Chow","Con-HFD","Vascepa-HFD"],"bandPosition":-0.2,"title":null},"x2":{"field":"g2","bandPosition":0.3},"color":{"value":"black"}}},
      {"data":{"name":"sig"},"transform":[{"filter":"datum.p=='H' && datum.k=='B'"}],"mark":{"type":"rule","strokeWidth":1.2},"encoding":{"x":{"field":"g1","type":"nominal","sort":["Con-Chow","Con-HFD","Vascepa-HFD"],"bandPosition":0.6,"title":null},"x2":{"field":"g2","bandPosition":1.0},"color":{"value":"black"}}},
      {"data":{"name":"sig"},"transform":[{"filter":"datum.p=='H' && datum.k=='A'"}],"mark":{"type":"text","baseline":"middle","dy":-2,"fontSize":12},"encoding":{"x":{"field":"g1","type":"nominal","sort":["Con-Chow","Con-HFD","Vascepa-HFD"],"bandPosition":0.83,"title":null},"text":{"field":"t"},"color":{"value":"black"}}},
      {"data":{"name":"sig"},"transform":[{"filter":"datum.p=='H' && datum.k=='B'"}],"mark":{"type":"text","baseline":"middle","dy":-2,"fontSize":12},"encoding":{"x":{"field":"g1","type":"nominal","sort":["Con-Chow","Con-HFD","Vascepa-HFD"],"bandPosition":1.59,"title":null},"text":{"field":"t"},"color":{"value":"black"}}}
     ]},
    {"title":{"text":"I","dx":7,"offset":-51},"width":174,"height":233,
     "encoding":{
      "x":{"field":"g","type":"nominal","sort":["Con-Chow","Con-HFD","Vascepa-HFD"],"scale":{"paddingInner":0.37,"paddingOuter":0.32,"range":[38,146]},"axis":{"labels":false,"ticks":false,"offset":-30},"title":null},
      "y":{"field":"v","type":"quantitative","scale":{"domain":[0,60],"range":[203,70]},"axis":{"values":[0,20,40,60],"format":"~f","titlePadding":3.3,"offset":-38},"title":"HOMA-IR"},
      "color":{"field":"g","type":"nominal","scale":{"domain":["Con-Chow","Con-HFD","Vascepa-HFD"],"range":["#a6a6a6","#000000","#d8232a"]},"legend":null}},
     "layer":[
      {"data":{"name":"bars"},"transform":[{"filter":"datum.p=='I'"}],"mark":{"type":"bar","filled":false,"fill":"white","strokeWidth":2}},
      {"data":{"name":"dots"},"transform":[{"filter":"datum.p=='I'"},{"flatten":["v"]}],"mark":{"type":"point","filled":true,"size":9,"opacity":1},"encoding":{"shape":{"field":"g","type":"nominal","scale":{"domain":["Con-Chow","Con-HFD","Vascepa-HFD"],"range":["circle","square","triangle-down"]},"legend":null}}},
      {"data":{"name":"bars"},"transform":[{"filter":"datum.p=='I'"}],"mark":{"type":"errorbar","ticks":{"size":10},"thickness":1.5},"encoding":{"yError":{"field":"e"}}},
      {"data":{"name":"sig"},"transform":[{"filter":"datum.p=='I' && datum.k=='A'"}],"mark":{"type":"rule","strokeWidth":1.2},"encoding":{"x":{"field":"g1","type":"nominal","sort":["Con-Chow","Con-HFD","Vascepa-HFD"],"bandPosition":-0.2,"title":null},"x2":{"field":"g2","bandPosition":0.3},"color":{"value":"black"}}},
      {"data":{"name":"sig"},"transform":[{"filter":"datum.p=='I' && datum.k=='B'"}],"mark":{"type":"rule","strokeWidth":1.2},"encoding":{"x":{"field":"g1","type":"nominal","sort":["Con-Chow","Con-HFD","Vascepa-HFD"],"bandPosition":0.6,"title":null},"x2":{"field":"g2","bandPosition":1.0},"color":{"value":"black"}}},
      {"data":{"name":"sig"},"transform":[{"filter":"datum.p=='I' && datum.k=='A'"}],"mark":{"type":"text","baseline":"middle","dy":-2,"fontSize":12},"encoding":{"x":{"field":"g1","type":"nominal","sort":["Con-Chow","Con-HFD","Vascepa-HFD"],"bandPosition":0.83,"title":null},"text":{"field":"t"},"color":{"value":"black"}}},
      {"data":{"name":"sig"},"transform":[{"filter":"datum.p=='I' && datum.k=='B'"}],"mark":{"type":"text","baseline":"middle","dy":-2,"fontSize":12},"encoding":{"x":{"field":"g1","type":"nominal","sort":["Con-Chow","Con-HFD","Vascepa-HFD"],"bandPosition":1.59,"title":null},"text":{"field":"t"},"color":{"value":"black"}}}
     ]},
    {"title":{"text":"J","dx":8,"offset":-52},"width":259,"height":233,
     "encoding":{
      "x":{"field":"min","type":"quantitative","scale":{"domain":[0,120],"nice":false,"range":[38,248]},"axis":{"values":[20,40,60,80,100,120],"labelPadding":1,"titlePadding":-1,"offset":-35},"title":"Time (Minutes)"},
      "y":{"field":"v","type":"quantitative","scale":{"domain":[0,30],"range":[198,57]},"axis":{"values":[0,10,20,30],"titlePadding":3.3,"offset":-38},"title":"Glucose (mM)"},
      "color":{"field":"g","type":"nominal","scale":{"domain":["Con-Chow","Con-HFD","Vascepa-HFD"],"range":["#a6a6a6","#000000","#d8232a"]},"legend":null}},
     "layer":[
      {"data":{"name":"lines"},"transform":[{"filter":"datum.p=='J'"}],"mark":{"type":"line","strokeWidth":1.5},"encoding":{"strokeDash":{"field":"g","type":"nominal","scale":{"domain":["Con-Chow","Con-HFD","Vascepa-HFD"],"range":[[4,3],[1,0],[1,0]]},"legend":null}}},
      {"data":{"name":"lines"},"transform":[{"filter":"datum.p=='J'"}],"mark":{"type":"errorbar","ticks":{"size":8},"thickness":1.5},"encoding":{"yError":{"field":"e"}}},
      {"data":{"name":"lines"},"transform":[{"filter":"datum.p=='J'"}],"mark":{"type":"point","filled":true,"size":45,"opacity":1},"encoding":{"shape":{"field":"g","type":"nominal","scale":{"domain":["Con-Chow","Con-HFD","Vascepa-HFD"],"range":["circle","square","triangle-down"]},"legend":null}}},
      {"data":{"name":"stars"},"transform":[{"filter":"datum.p=='J'"}],"mark":{"type":"text","baseline":"middle","dy":2.5,"fontSize":12},"encoding":{"text":{"field":"t"},"color":{"value":"black"}}}
     ]}
   ]},
   {"spacing":0,"hconcat":[
    {"title":{"text":"K","dx":3,"offset":-41},"width":236,"height":248,
     "encoding":{
      "x":{"field":"min","type":"quantitative","scale":{"domain":[0,30],"nice":false,"range":[28,228]},"axis":{"values":[10,20,30],"labelPadding":0,"titlePadding":0,"offset":-59},"title":"Time (Minutes)"},
      "y":{"field":"v","type":"quantitative","scale":{"domain":[0,5],"range":[189,56]},"axis":{"values":[0,1,2,3,4,5],"titlePadding":4,"offset":-28},"title":"Insulin (ng/mL)"},
      "color":{"field":"g","type":"nominal","scale":{"domain":["Con-Chow","Con-HFD","Vascepa-HFD"],"range":["#a6a6a6","#000000","#d8232a"]},"legend":null}},
     "layer":[
      {"data":{"name":"lines"},"transform":[{"filter":"datum.p=='K'"}],"mark":{"type":"line","strokeWidth":1.5},"encoding":{"strokeDash":{"field":"g","type":"nominal","scale":{"domain":["Con-Chow","Con-HFD","Vascepa-HFD"],"range":[[4,3],[1,0],[1,0]]},"legend":null}}},
      {"data":{"name":"lines"},"transform":[{"filter":"datum.p=='K'"}],"mark":{"type":"errorbar","ticks":{"size":8},"thickness":1.5},"encoding":{"yError":{"field":"e"}}},
      {"data":{"name":"lines"},"transform":[{"filter":"datum.p=='K'"}],"mark":{"type":"point","filled":true,"size":45,"opacity":1},"encoding":{"shape":{"field":"g","type":"nominal","scale":{"domain":["Con-Chow","Con-HFD","Vascepa-HFD"],"range":["circle","square","triangle-down"]},"legend":null}}},
      {"data":{"name":"stars"},"transform":[{"filter":"datum.p=='K'"}],"mark":{"type":"text","baseline":"middle","dy":2.5,"fontSize":12},"encoding":{"text":{"field":"t"},"color":{"value":"black"}}}
     ]},
    {"width":130,"height":248,
     "encoding":{
      "x":{"field":"g","type":"nominal","sort":["Con-Chow","Con-HFD","Vascepa-HFD"],"scale":{"paddingInner":0.35,"paddingOuter":0.3,"range":[36,126]},"axis":{"labels":false,"ticks":false,"offset":-56},"title":null},
      "y":{"field":"v","type":"quantitative","scale":{"domain":[0,250],"range":[192,81]},"axis":{"values":[0,50,100,150,200,250],"format":"~f","labelFontSize":8,"titleFontSize":9.5,"tickSize":3,"titlePadding":3,"offset":-36},"title":"AUC"},
      "color":{"field":"g","type":"nominal","scale":{"domain":["Con-Chow","Con-HFD","Vascepa-HFD"],"range":["#a6a6a6","#000000","#d8232a"]},"legend":null}},
     "layer":[
      {"data":{"name":"bars"},"transform":[{"filter":"datum.p=='KA'"}],"mark":{"type":"bar","filled":false,"fill":"white","strokeWidth":2}},
      {"data":{"name":"dots"},"transform":[{"filter":"datum.p=='KA'"},{"flatten":["v"]}],"mark":{"type":"point","filled":true,"size":7,"opacity":1},"encoding":{"shape":{"field":"g","type":"nominal","scale":{"domain":["Con-Chow","Con-HFD","Vascepa-HFD"],"range":["circle","square","triangle-down"]},"legend":null}}},
      {"data":{"name":"bars"},"transform":[{"filter":"datum.p=='KA'"}],"mark":{"type":"errorbar","ticks":{"size":8},"thickness":1.5},"encoding":{"yError":{"field":"e"}}},
      {"data":{"name":"sig"},"transform":[{"filter":"datum.p=='KA' && datum.k=='A'"}],"mark":{"type":"rule","strokeWidth":1.2},"encoding":{"x":{"field":"g1","type":"nominal","sort":["Con-Chow","Con-HFD","Vascepa-HFD"],"bandPosition":-0.2,"title":null},"x2":{"field":"g2","bandPosition":0.3},"color":{"value":"black"}}},
      {"data":{"name":"sig"},"transform":[{"filter":"datum.p=='KA' && datum.k=='B'"}],"mark":{"type":"rule","strokeWidth":1.2},"encoding":{"x":{"field":"g1","type":"nominal","sort":["Con-Chow","Con-HFD","Vascepa-HFD"],"bandPosition":0.6,"title":null},"x2":{"field":"g2","bandPosition":1.0},"color":{"value":"black"}}},
      {"data":{"name":"sig"},"transform":[{"filter":"datum.p=='KA' && datum.k=='A'"}],"mark":{"type":"text","baseline":"middle","dy":-2,"fontSize":11},"encoding":{"x":{"field":"g1","type":"nominal","sort":["Con-Chow","Con-HFD","Vascepa-HFD"],"bandPosition":0.83,"title":null},"text":{"field":"t"},"color":{"value":"black"}}},
      {"data":{"name":"sig"},"transform":[{"filter":"datum.p=='KA' && datum.k=='B'"}],"mark":{"type":"text","baseline":"middle","dy":-2,"fontSize":11},"encoding":{"x":{"field":"g1","type":"nominal","sort":["Con-Chow","Con-HFD","Vascepa-HFD"],"bandPosition":1.59,"title":null},"text":{"field":"t"},"color":{"value":"black"}}}
     ]},
    {"title":{"text":"L","dx":2,"offset":-44},"width":256,"height":248,
     "encoding":{
      "x":{"field":"min","type":"quantitative","scale":{"domain":[0,120],"nice":false,"range":[33,247]},"axis":{"values":[20,40,60,80,100,120],"labelPadding":0,"tickSize":3,"titlePadding":0,"offset":-56},"title":"Time (Minutes)"},
      "y":{"field":"v","type":"quantitative","scale":{"domain":[0,15],"range":[192,45]},"axis":{"values":[0,5,10,15],"titlePadding":0,"labelPadding":1,"offset":-33},"title":"Glucose (mM)"},
      "color":{"field":"g","type":"nominal","scale":{"domain":["Con-Chow","Con-HFD","Vascepa-HFD"],"range":["#a6a6a6","#000000","#d8232a"]},"legend":null}},
     "layer":[
      {"data":{"name":"lines"},"transform":[{"filter":"datum.p=='L'"}],"mark":{"type":"line","strokeWidth":1.5},"encoding":{"strokeDash":{"field":"g","type":"nominal","scale":{"domain":["Con-Chow","Con-HFD","Vascepa-HFD"],"range":[[4,3],[1,0],[1,0]]},"legend":null}}},
      {"data":{"name":"lines"},"transform":[{"filter":"datum.p=='L'"}],"mark":{"type":"errorbar","ticks":{"size":8},"thickness":1.5},"encoding":{"yError":{"field":"e"}}},
      {"data":{"name":"lines"},"transform":[{"filter":"datum.p=='L'"}],"mark":{"type":"point","filled":true,"size":45,"opacity":1},"encoding":{"shape":{"field":"g","type":"nominal","scale":{"domain":["Con-Chow","Con-HFD","Vascepa-HFD"],"range":["circle","square","triangle-down"]},"legend":null}}},
      {"data":{"name":"stars"},"transform":[{"filter":"datum.p=='L'"}],"mark":{"type":"text","baseline":"middle","dy":2.5,"fontSize":12},"encoding":{"text":{"field":"t"},"color":{"value":"black"}}}
     ]}
   ]}
  ]},
  {"spacing":0,"vconcat":[
   {"width":128,"height":112,
    "encoding":{
     "x":{"field":"g","type":"nominal","sort":["Con-Chow","Con-HFD","Vascepa-HFD"],"scale":{"paddingInner":0.36,"paddingOuter":0.4,"range":[30,115]},"axis":{"labels":false,"ticks":false,"offset":-6},"title":null},
     "y":{"field":"v","type":"quantitative","scale":{"domain":[0,4000],"range":[106,9]},"axis":{"values":[0,1000,2000,3000,4000],"format":"~f","labelFontSize":7.5,"titleFontSize":9.5,"tickSize":2,"titlePadding":0,"labelPadding":1,"offset":-30},"title":"AUC"},
     "color":{"field":"g","type":"nominal","scale":{"domain":["Con-Chow","Con-HFD","Vascepa-HFD"],"range":["#a6a6a6","#000000","#d8232a"]},"legend":null}},
    "layer":[
     {"data":{"name":"bars"},"transform":[{"filter":"datum.p=='JA'"}],"mark":{"type":"bar","filled":false,"fill":"white","strokeWidth":2}},
     {"data":{"name":"dots"},"transform":[{"filter":"datum.p=='JA'"},{"flatten":["v"]}],"mark":{"type":"point","filled":true,"size":7,"opacity":1},"encoding":{"shape":{"field":"g","type":"nominal","scale":{"domain":["Con-Chow","Con-HFD","Vascepa-HFD"],"range":["circle","square","triangle-down"]},"legend":null}}},
     {"data":{"name":"bars"},"transform":[{"filter":"datum.p=='JA'"}],"mark":{"type":"errorbar","ticks":{"size":8},"thickness":1.5},"encoding":{"yError":{"field":"e"}}},
     {"data":{"name":"sig"},"transform":[{"filter":"datum.p=='JA' && datum.k=='A'"}],"mark":{"type":"rule","strokeWidth":1.2},"encoding":{"x":{"field":"g1","type":"nominal","sort":["Con-Chow","Con-HFD","Vascepa-HFD"],"bandPosition":-0.2,"title":null},"x2":{"field":"g2","bandPosition":0.3},"color":{"value":"black"}}},
     {"data":{"name":"sig"},"transform":[{"filter":"datum.p=='JA' && datum.k=='B'"}],"mark":{"type":"rule","strokeWidth":1.2},"encoding":{"x":{"field":"g1","type":"nominal","sort":["Con-Chow","Con-HFD","Vascepa-HFD"],"bandPosition":0.6,"title":null},"x2":{"field":"g2","bandPosition":1.0},"color":{"value":"black"}}},
     {"data":{"name":"sig"},"transform":[{"filter":"datum.p=='JA' && datum.k=='A'"}],"mark":{"type":"text","baseline":"middle","dy":-2,"fontSize":11},"encoding":{"x":{"field":"g1","type":"nominal","sort":["Con-Chow","Con-HFD","Vascepa-HFD"],"bandPosition":0.83,"title":null},"text":{"field":"t"},"color":{"value":"black"}}},
     {"data":{"name":"sig"},"transform":[{"filter":"datum.p=='JA' && datum.k=='B'"}],"mark":{"type":"text","baseline":"middle","dy":-2,"fontSize":11},"encoding":{"x":{"field":"g1","type":"nominal","sort":["Con-Chow","Con-HFD","Vascepa-HFD"],"bandPosition":1.59,"title":null},"text":{"field":"t"},"color":{"value":"black"}}}
    ]},
   {"width":128,"height":121,
    "encoding":{
     "x":{"field":"g","type":"nominal","sort":["Con-Chow","Con-HFD","Vascepa-HFD"],"scale":{"paddingInner":0.36,"paddingOuter":0.4,"range":[31,115]},"axis":{"labels":false,"ticks":false,"offset":-16},"title":null},
     "y":{"field":"v","type":"quantitative","scale":{"domain":[0,3000],"range":[105,6]},"axis":{"values":[0,1000,2000,3000],"format":"~f","labelFontSize":7.5,"titleFontSize":9.5,"tickSize":2,"titlePadding":0,"labelPadding":1,"offset":-31},"title":"AUC above baseline"},
     "color":{"field":"g","type":"nominal","scale":{"domain":["Con-Chow","Con-HFD","Vascepa-HFD"],"range":["#a6a6a6","#000000","#d8232a"]},"legend":null}},
    "layer":[
     {"data":{"name":"bars"},"transform":[{"filter":"datum.p=='JB'"}],"mark":{"type":"bar","filled":false,"fill":"white","strokeWidth":2}},
     {"data":{"name":"dots"},"transform":[{"filter":"datum.p=='JB'"},{"flatten":["v"]}],"mark":{"type":"point","filled":true,"size":7,"opacity":1},"encoding":{"shape":{"field":"g","type":"nominal","scale":{"domain":["Con-Chow","Con-HFD","Vascepa-HFD"],"range":["circle","square","triangle-down"]},"legend":null}}},
     {"data":{"name":"bars"},"transform":[{"filter":"datum.p=='JB'"}],"mark":{"type":"errorbar","ticks":{"size":8},"thickness":1.5},"encoding":{"yError":{"field":"e"}}},
     {"data":{"name":"sig"},"transform":[{"filter":"datum.p=='JB' && datum.k=='A'"}],"mark":{"type":"rule","strokeWidth":1.2},"encoding":{"x":{"field":"g1","type":"nominal","sort":["Con-Chow","Con-HFD","Vascepa-HFD"],"bandPosition":-0.2,"title":null},"x2":{"field":"g2","bandPosition":0.3},"color":{"value":"black"}}},
     {"data":{"name":"sig"},"transform":[{"filter":"datum.p=='JB' && datum.k=='A'"}],"mark":{"type":"text","baseline":"middle","dy":-2,"fontSize":11},"encoding":{"x":{"field":"g1","type":"nominal","sort":["Con-Chow","Con-HFD","Vascepa-HFD"],"bandPosition":0.83,"title":null},"text":{"field":"t"},"color":{"value":"black"}}}
    ]},
   {"width":128,"height":129,
    "encoding":{
     "x":{"field":"g","type":"nominal","sort":["Con-Chow","Con-HFD","Vascepa-HFD"],"scale":{"paddingInner":0.33,"paddingOuter":0.4,"range":[38,126]},"axis":{"labels":false,"ticks":false,"offset":-8},"title":null},
     "y":{"field":"v","type":"quantitative","scale":{"domain":[0,1500],"range":[121,24]},"axis":{"values":[0,500,1000,1500],"format":"~f","labelFontSize":7.5,"titleFontSize":9.5,"tickSize":3,"titlePadding":1,"offset":-38},"title":"AUC"},
     "color":{"field":"g","type":"nominal","scale":{"domain":["Con-Chow","Con-HFD","Vascepa-HFD"],"range":["#a6a6a6","#000000","#d8232a"]},"legend":null}},
    "layer":[
     {"data":{"name":"bars"},"transform":[{"filter":"datum.p=='LA'"}],"mark":{"type":"bar","filled":false,"fill":"white","strokeWidth":2}},
     {"data":{"name":"dots"},"transform":[{"filter":"datum.p=='LA'"},{"flatten":["v"]}],"mark":{"type":"point","filled":true,"size":7,"opacity":1},"encoding":{"shape":{"field":"g","type":"nominal","scale":{"domain":["Con-Chow","Con-HFD","Vascepa-HFD"],"range":["circle","square","triangle-down"]},"legend":null}}},
     {"data":{"name":"bars"},"transform":[{"filter":"datum.p=='LA'"}],"mark":{"type":"errorbar","ticks":{"size":8},"thickness":1.5},"encoding":{"yError":{"field":"e"}}},
     {"data":{"name":"sig"},"transform":[{"filter":"datum.p=='LA' && datum.k=='A'"}],"mark":{"type":"rule","strokeWidth":1.2},"encoding":{"x":{"field":"g1","type":"nominal","sort":["Con-Chow","Con-HFD","Vascepa-HFD"],"bandPosition":-0.2,"title":null},"x2":{"field":"g2","bandPosition":0.3},"color":{"value":"black"}}},
     {"data":{"name":"sig"},"transform":[{"filter":"datum.p=='LA' && datum.k=='B'"}],"mark":{"type":"rule","strokeWidth":1.2},"encoding":{"x":{"field":"g1","type":"nominal","sort":["Con-Chow","Con-HFD","Vascepa-HFD"],"bandPosition":0.6,"title":null},"x2":{"field":"g2","bandPosition":1.0},"color":{"value":"black"}}},
     {"data":{"name":"sig"},"transform":[{"filter":"datum.p=='LA' && datum.k=='A'"}],"mark":{"type":"text","baseline":"middle","dy":-2,"fontSize":11},"encoding":{"x":{"field":"g1","type":"nominal","sort":["Con-Chow","Con-HFD","Vascepa-HFD"],"bandPosition":0.83,"title":null},"text":{"field":"t"},"color":{"value":"black"}}},
     {"data":{"name":"sig"},"transform":[{"filter":"datum.p=='LA' && datum.k=='B'"}],"mark":{"type":"text","baseline":"middle","dy":-2,"fontSize":11},"encoding":{"x":{"field":"g1","type":"nominal","sort":["Con-Chow","Con-HFD","Vascepa-HFD"],"bandPosition":1.59,"title":null},"text":{"field":"t"},"color":{"value":"black"}}}
    ]},
   {"width":128,"height":119,
    "encoding":{
     "x":{"field":"g","type":"nominal","sort":["Con-Chow","Con-HFD","Vascepa-HFD"],"scale":{"paddingInner":0.33,"paddingOuter":0.4,"range":[38,126]},"axis":{"labels":false,"ticks":false,"offset":-6},"title":null},
     "y":{"field":"v","type":"quantitative","scale":{"domain":[0,1500],"range":[113,8]},"axis":{"values":[0,500,1000,1500],"format":"~f","labelFontSize":7.5,"titleFontSize":9.5,"tickSize":3,"titlePadding":1,"offset":-38},"title":"AUC below baseline"},
     "color":{"field":"g","type":"nominal","scale":{"domain":["Con-Chow","Con-HFD","Vascepa-HFD"],"range":["#a6a6a6","#000000","#d8232a"]},"legend":null}},
    "layer":[
     {"data":{"name":"bars"},"transform":[{"filter":"datum.p=='LB'"}],"mark":{"type":"bar","filled":false,"fill":"white","strokeWidth":2}},
     {"data":{"name":"dots"},"transform":[{"filter":"datum.p=='LB'"},{"flatten":["v"]}],"mark":{"type":"point","filled":true,"size":7,"opacity":1},"encoding":{"shape":{"field":"g","type":"nominal","scale":{"domain":["Con-Chow","Con-HFD","Vascepa-HFD"],"range":["circle","square","triangle-down"]},"legend":null}}},
     {"data":{"name":"bars"},"transform":[{"filter":"datum.p=='LB'"}],"mark":{"type":"errorbar","ticks":{"size":8},"thickness":1.5},"encoding":{"yError":{"field":"e"}}}
    ]}
  ]}
 ]}
],
"resolve":{"scale":{"xOffset":"independent"}}
}
